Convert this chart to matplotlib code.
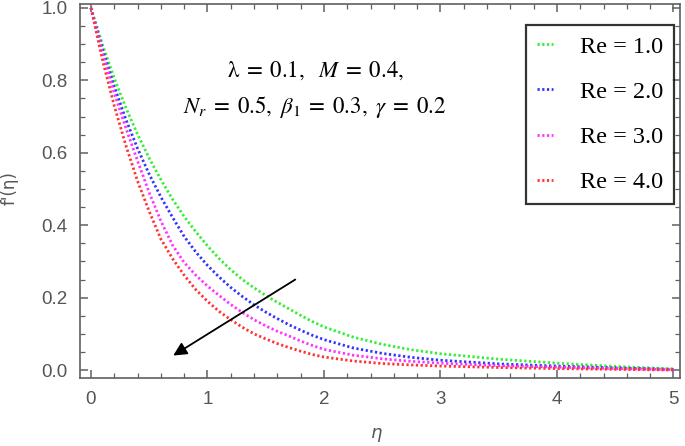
import matplotlib
matplotlib.use("Agg")
import matplotlib.pyplot as plt
from matplotlib.ticker import MultipleLocator

# ---- data ----
eta = [0.0, 0.1, 0.2, 0.3, 0.4, 0.5, 0.6, 0.7, 0.8, 0.9, 1.0, 1.1, 1.2, 1.3, 1.4, 1.5,
       1.6, 1.7, 1.8, 1.9, 2.0, 2.25, 2.5, 2.75, 3.0, 3.5, 4.0, 4.5, 5.0]
re_labels = ["Re = 1.0", "Re = 2.0", "Re = 3.0", "Re = 4.0"]
f_re1 = [1.0, 0.898, 0.806, 0.724, 0.651, 0.585, 0.526, 0.472, 0.424, 0.382, 0.343,
         0.308, 0.277, 0.250, 0.227, 0.206, 0.187, 0.169, 0.151, 0.134, 0.119,
         0.091, 0.071, 0.056, 0.045, 0.030, 0.019, 0.010, 0.003]
f_re2 = [1.0, 0.885, 0.783, 0.692, 0.612, 0.541, 0.478, 0.422, 0.369, 0.326, 0.289,
         0.257, 0.228, 0.203, 0.180, 0.160, 0.142, 0.125, 0.110, 0.096, 0.084,
         0.061, 0.046, 0.035, 0.027, 0.017, 0.011, 0.006, 0.002]
f_re3 = [1.0, 0.875, 0.765, 0.668, 0.578, 0.490, 0.412, 0.345, 0.297, 0.262, 0.232,
         0.206, 0.181, 0.159, 0.139, 0.122, 0.107, 0.094, 0.080, 0.068, 0.057,
         0.041, 0.031, 0.024, 0.019, 0.012, 0.008, 0.004, 0.001]
f_re4 = [1.0, 0.855, 0.730, 0.620, 0.522, 0.438, 0.362, 0.308, 0.262, 0.222, 0.190,
         0.162, 0.139, 0.118, 0.100, 0.086, 0.073, 0.062, 0.052, 0.043, 0.036,
         0.025, 0.018, 0.014, 0.011, 0.007, 0.004, 0.002, 0.000]
series = [f_re1, f_re2, f_re3, f_re4]
colors = ["#33ee33", "#3333ff", "#ff33ff", "#ff3333"]
xticks = [0, 1, 2, 3, 4, 5]
yticks = [0.0, 0.2, 0.4, 0.6, 0.8, 1.0]

plt.rcParams["mathtext.fontset"] = "stix"

fig = plt.figure(figsize=(6.85, 4.46), dpi=100)
ax = fig.add_axes([80/685, 1 - 378/446, 600/685, 374/446])

for ys, c, lab in zip(series, colors, re_labels):
    ax.plot(eta, ys, color=c, lw=2.0, linestyle=(0, (0.8, 0.9)), label=lab)

ax.set_xlim(-0.094, 5.056)
ax.set_ylim(-0.022, 1.011)
ax.set_xticks(xticks)
ax.set_yticks(yticks)
ax.set_xticklabels([str(t) for t in xticks])
ax.set_yticklabels([f"{t:.1f}" for t in yticks])
ax.xaxis.set_minor_locator(MultipleLocator(0.2))
ax.yaxis.set_minor_locator(MultipleLocator(0.05))

grey = "#606060"
for s in ax.spines.values():
    s.set_color(grey)
    s.set_linewidth(1.2)
ax.tick_params(which="both", direction="in", top=True, right=True, color=grey)
ax.tick_params(which="major", length=6, width=1.1, labelsize=13.5, labelcolor="#555555")
ax.tick_params(axis="y", which="major", pad=9)
ax.tick_params(axis="x", which="major", pad=9)
ax.tick_params(which="minor", length=3.5, width=0.9)
for lab in ax.get_xticklabels() + ax.get_yticklabels():
    lab.set_family("Liberation Sans")

ax.set_ylabel("f'(\u03b7)", fontsize=12, color="#555555", family="DejaVu Sans")
ax.yaxis.set_label_coords(-0.103, 0.508)
ax.set_xlabel("\u03b7", fontsize=13, color="#555555", family="DejaVu Sans", style="italic")
ax.xaxis.set_label_coords(0.495, -0.122)

leg = ax.legend(loc="upper right", bbox_to_anchor=(0.99, 0.944), borderaxespad=0,
                prop={"family": "Liberation Serif", "size": 17.5}, frameon=True, fancybox=False,
                handlelength=0.65, handletextpad=1.1, labelspacing=0.95, borderpad=0.45)
leg.get_frame().set_edgecolor("black")
leg.get_frame().set_linewidth(1.6)

fig.text(316/685, 1 - 70/446, r"$\mathrm{\lambda} \;=\; 0.1,\ \ M \;=\; 0.4,$",
         ha="center", va="center", fontsize=16.5)
fig.text(315/685, 1 - 107/446, r"$N_r \;=\; 0.5,\ \beta_1 \;=\; 0.3,\ \gamma \;=\; 0.2$",
         ha="center", va="center", fontsize=16.5)

ax.annotate("", xy=(0.686, 0.036), xytext=(1.774, 0.254),
            arrowprops=dict(arrowstyle="-|>", color="black", lw=1.3, mutation_scale=20))

fig.savefig("out.png", dpi=100)
